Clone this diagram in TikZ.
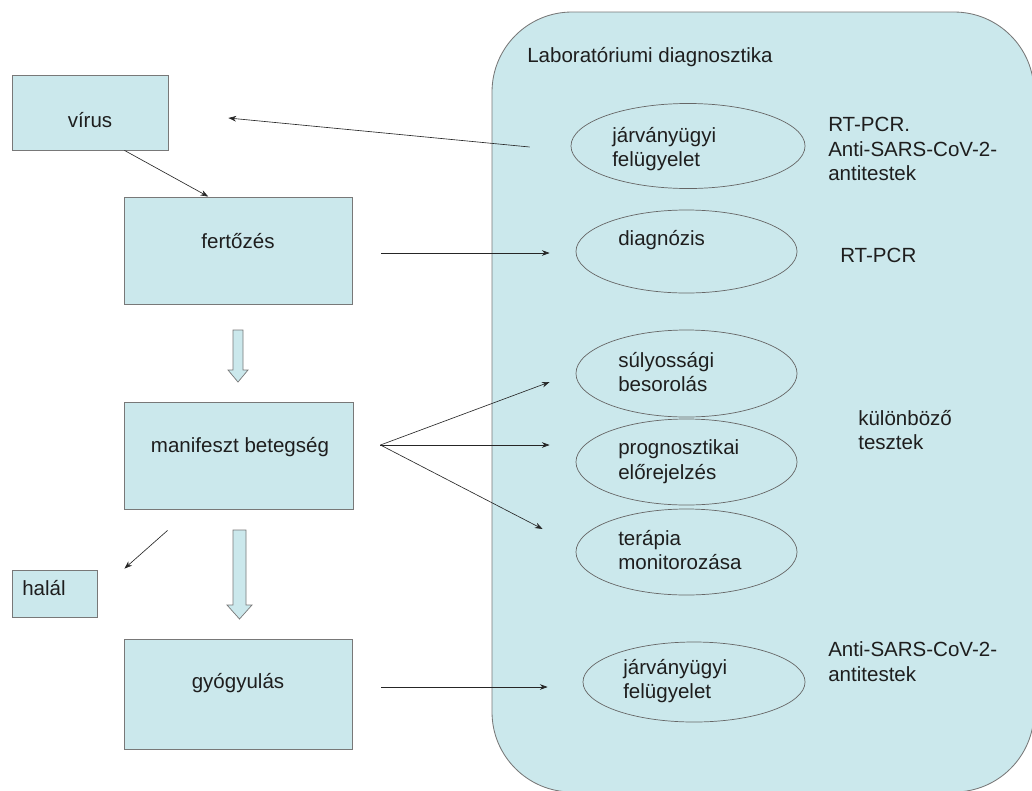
\documentclass[tikz,border=0pt]{standalone}
\usepackage{fontspec}
\setmainfont{Liberation Sans}
\usetikzlibrary{calc,arrows.meta,shapes.geometric}
\definecolor{fillc}{RGB}{203,232,236}
\definecolor{edgec}{RGB}{120,120,120}
\definecolor{txtc}{RGB}{30,30,30}
\begin{document}
\begin{tikzpicture}[x=0.025cm,y=-0.025cm,
  font=\fontsize{14.6pt}{17.6pt}\selectfont, text=txtc,
  boxn/.style={rectangle, draw=edgec, fill=fillc, line width=0.6pt, inner sep=0pt},
  elln/.style={ellipse, draw=edgec!85!black, line width=0.5pt, inner sep=0pt},
  lbl/.style={anchor=west, align=left, inner sep=0pt},
  ctr/.style={anchor=center, inner sep=0pt},
  arr/.style={-{Stealth[length=5.5pt,width=4pt]}, line width=0.45pt, draw=black!85},
  fat/.style={draw=edgec, fill=fillc, line width=0.5pt, line join=miter}]
\clip (0,0) rectangle (1032,790);
\fill[white] (0,0) rectangle (1032,790);
% laboratory panel
\draw[draw=edgec, fill=fillc, line width=0.6pt, rounded corners=2cm] (492,12) rectangle (1034,792);
\node[lbl] (title) at (527,57) {Laboratóriumi diagnosztika};
% left boxes
\node[boxn, minimum width=3.9cm, minimum height=1.875cm] (virus) at (90,112.5) {};
\node[ctr] (tvirus) at (90,120) {vírus};
\node[boxn, minimum width=5.7cm, minimum height=2.675cm] (fert) at (238,250.5) {};
\node[ctr] (tfert) at (238,241) {fertőzés};
\node[boxn, minimum width=5.725cm, minimum height=2.675cm] (manif) at (238.5,455.5) {};
\node[ctr] (tmanif) at (240,447) {manifeszt betegség};
\node[boxn, minimum width=2.125cm, minimum height=1.175cm] (halal) at (54.5,593.5) {};
\node[lbl] (thalal) at (22,588) {halál};
\node[boxn, minimum width=5.7cm, minimum height=2.75cm] (gyog) at (238,694) {};
\node[ctr] (tgyog) at (238,683) {gyógyulás};
% block arrows
\draw[fat] (233,330) -- (243,330) -- (243,370) -- (248,370) -- (238,382) -- (228,370) -- (233,370) -- cycle;
\draw[fat] (233,530) -- (246,530) -- (246,605) -- (252,605) -- (239.5,619) -- (227,605) -- (233,605) -- cycle;
% ellipses
\node[elln, minimum width=5.85cm, minimum height=2.125cm] (e1) at (688,146) {};
\node[lbl] (t1) at (612,149) {járványügyi\\felügyelet};
\node[elln, minimum width=5.525cm, minimum height=2.075cm] (e2) at (686.5,251.5) {};
\node[lbl] (t2) at (618,240) {diagnózis};
\node[elln, minimum width=5.525cm, minimum height=2.175cm] (e3) at (686.5,373.5) {};
\node[lbl] (t3) at (618,372) {súlyossági\\besorolás};
\node[elln, minimum width=5.525cm, minimum height=2.15cm] (e4) at (686.5,462) {};
\node[lbl] (t4) at (618,462) {prognosztikai\\előrejelzés};
\node[elln, minimum width=5.525cm, minimum height=2.15cm] (e5) at (686.5,552) {};
\node[lbl] (t5) at (618,550) {terápia\\monitorozása};
\node[elln, minimum width=5.55cm, minimum height=2.0cm] (e6) at (694,682) {};
\node[lbl] (t6) at (623,681) {járványügyi\\felügyelet};
% right-hand texts
\node[lbl] (r1) at (828,149) {RT-PCR.\\Anti-SARS-CoV-2-\\antitestek};
\node[lbl] (r2) at (840,255) {RT-PCR};
\node[lbl] (r3) at (858,430) {különböző\\tesztek};
\node[lbl] (r4) at (828,662) {Anti-SARS-CoV-2-\\antitestek};
% connectors
\draw[arr] ($(virus.south west)!0.72!(virus.south east)$) -- ($(fert.north west)!0.37!(fert.north east)$);
\draw[arr] ($(e1.west)+(-41,1)$) -- ($(virus.east)+(60,5.5)$);
\draw[arr] ($(fert.east)+(29,2.5)$) -- ($(e2.west)+(-26,1.5)$);
\coordinate (fan) at ($(manif.east)+(27,-10.5)$);
\draw[arr] (fan) -- ($(e3.west)+(-26,8.5)$);
\draw[arr] (fan) -- ($(e4.west)+(-26,-17)$);
\draw[arr] (fan) -- ($(e5.west)+(-33,-23)$);
\draw[arr] ($(manif.south west)+(44,21)$) -- ($(halal.north east)+(27,-1)$);
\draw[arr] ($(gyog.east)+(29,-7)$) -- ($(e6.west)+(-35,5)$);
\end{tikzpicture}
\end{document}
